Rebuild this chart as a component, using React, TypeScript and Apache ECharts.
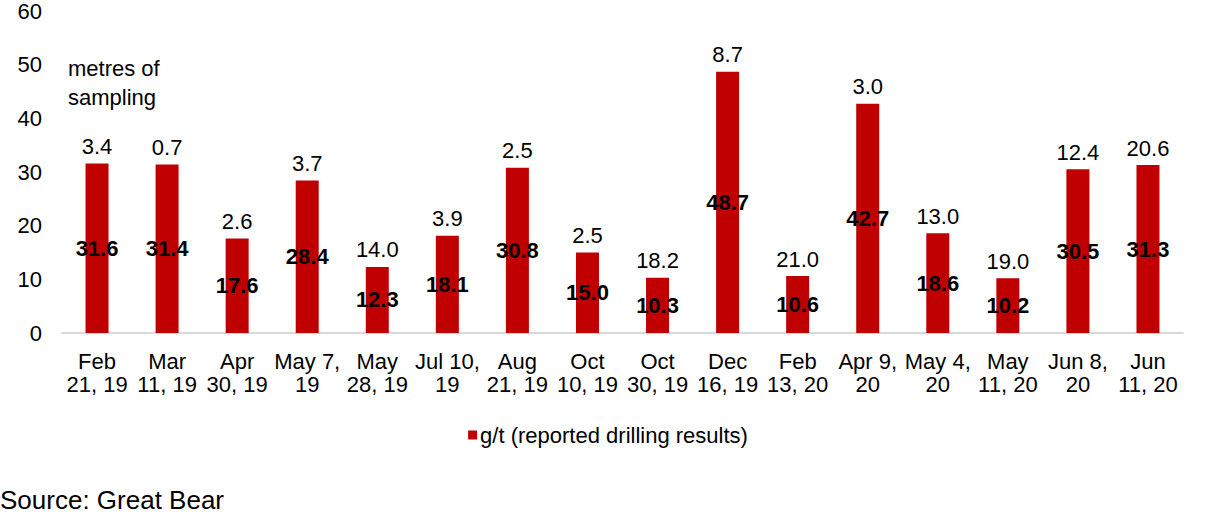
import React, { useEffect, useRef } from "react";
import * as echarts from "echarts";

const categories = [
  "Feb\n21, 19", "Mar\n11, 19", "Apr\n30, 19", "May 7,\n19", "May\n28, 19", "Jul 10,\n19",
  "Aug\n21, 19", "Oct\n10, 19", "Oct\n30, 19", "Dec\n16, 19", "Feb\n13, 20", "Apr 9,\n20",
  "May 4,\n20", "May\n11, 20", "Jun 8,\n20", "Jun\n11, 20",
];
const gradeValues = [31.6, 31.4, 17.6, 28.4, 12.3, 18.1, 30.8, 15.0, 10.3, 48.7, 10.6, 42.7, 18.6, 10.2, 30.5, 31.3];
const metresValues = [3.4, 0.7, 2.6, 3.7, 14.0, 3.9, 2.5, 2.5, 18.2, 8.7, 21.0, 3.0, 13.0, 19.0, 12.4, 20.6];
const yTicks = [0, 10, 20, 30, 40, 50, 60];
const seriesName = "g/t (reported drilling results)";

const FONT = "'Liberation Sans', Arial, sans-serif";

export default function App() {
  const ref = useRef<HTMLDivElement>(null);
  useEffect(() => {
    if (!ref.current) return;
    const chart = echarts.init(ref.current, null, { renderer: "svg" });
    chart.setOption({
      animation: false,
      textStyle: { fontFamily: FONT },
      grid: { left: 62, right: 33, top: 10, bottom: 185, containLabel: false },
      legend: {
        data: [{ name: seriesName, icon: "rect" }],
        top: 419,
        left: "center",
        itemWidth: 9,
        itemHeight: 9,
        itemGap: 4,
        textStyle: { fontFamily: FONT, fontSize: 22, color: "#000", padding: [0, 0, 0, -2] },
      },
      xAxis: {
        type: "category",
        data: categories,
        axisLine: { lineStyle: { color: "#d9d9d9", width: 2 } },
        axisTick: { show: false },
        axisLabel: {
          fontFamily: FONT,
          fontSize: 22,
          lineHeight: 23,
          color: "#000",
          margin: 17,
          interval: 0,
        },
      },
      yAxis: {
        type: "value",
        min: yTicks[0],
        max: yTicks[yTicks.length - 1],
        interval: 10,
        splitLine: { show: false },
        axisLine: { show: false },
        axisTick: { show: false },
        axisLabel: { fontFamily: FONT, fontSize: 22, color: "#000", margin: 20 },
      },
      series: [
        {
          name: seriesName,
          type: "bar",
          data: gradeValues,
          barWidth: 23,
          itemStyle: { color: "#c00000" },
          label: {
            show: true,
            position: "inside",
            fontFamily: FONT,
            fontSize: 22,
            fontWeight: "bold",
            color: "#000",
            formatter: (p: any) => Number(p.value).toFixed(1),
          },
        },
        {
          name: "metres",
          type: "bar",
          data: gradeValues,
          barWidth: 23,
          barGap: "-100%",
          itemStyle: { color: "transparent" },
          silent: true,
          label: {
            show: true,
            position: "top",
            distance: 6,
            fontFamily: FONT,
            fontSize: 22,
            color: "#000",
            formatter: (p: any) => metresValues[p.dataIndex].toFixed(1),
          },
        },
      ],
      graphic: [
        {
          type: "text",
          left: 68,
          top: 54,
          style: {
            text: "metres of\nsampling",
            font: `22px ${FONT}`,
            lineHeight: 29,
            fill: "#000",
          },
        },
        {
          type: "text",
          left: 0,
          top: 487,
          style: {
            text: "Source: Great Bear",
            font: `26px ${FONT}`,
            fill: "#000",
          },
        },
      ],
    });
    return () => chart.dispose();
  }, []);
  return <div ref={ref} style={{ width: 1216, height: 518, position: "absolute", left: 0, top: 0 }} />;
}
